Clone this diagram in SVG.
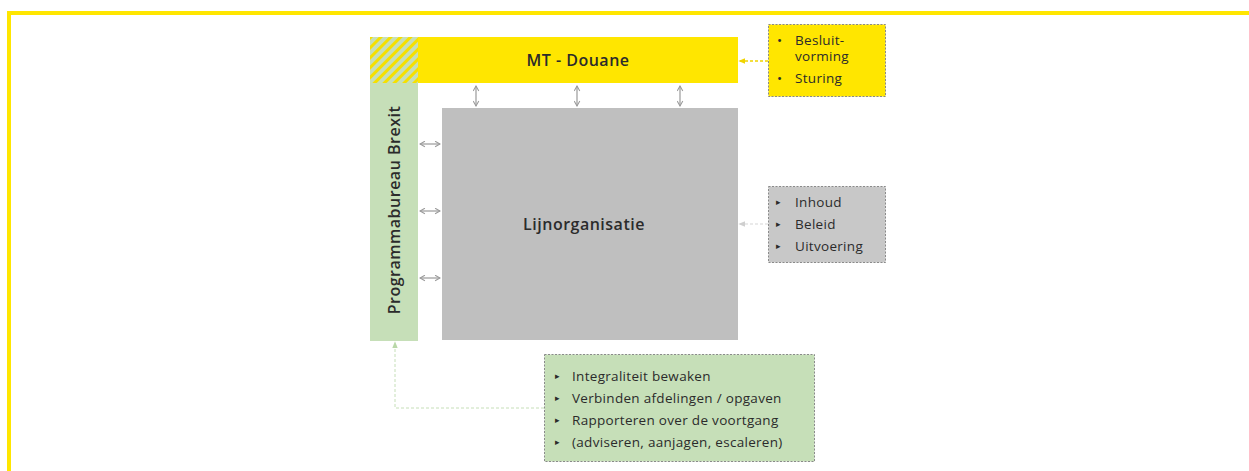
<svg xmlns="http://www.w3.org/2000/svg" width="1249" height="471" viewBox="0 0 1249 471">
<style>
  text { font-family: "Open Sans", "Noto Sans", sans-serif; fill: #2b2b2b; }
  .title { font-size: 16px; font-weight: 600; letter-spacing: 0.5px; }
  .item { font-size: 13.5px; letter-spacing: 0.3px; }
  .bul { font-size: 9px; }
  .dbl { stroke: #9a9a9a; stroke-width: 1.2; fill: none; }
  .note { stroke: #8a8a8a; stroke-width: 1; stroke-dasharray: 2 1.5; }
</style>
<defs>
  <pattern id="hatch" patternUnits="userSpaceOnUse" width="7" height="7" patternTransform="rotate(45)">
    <rect width="7" height="7" fill="#c6dfb8"/>
    <rect width="3" height="7" fill="#f5e000"/>
  </pattern>
  <marker id="ah" viewBox="0 0 10 10" refX="8" refY="5" markerWidth="7" markerHeight="7" orient="auto-start-reverse" markerUnits="userSpaceOnUse">
    <path d="M1,1 L8,5 L1,9" fill="none" stroke="#9a9a9a" stroke-width="1.5"/>
  </marker>
  <marker id="ahY" viewBox="0 0 10 10" refX="9" refY="5" markerWidth="7" markerHeight="7" orient="auto" markerUnits="userSpaceOnUse">
    <path d="M0,1 L10,5 L0,9 z" fill="#f0d400"/>
  </marker>
  <marker id="ahG" viewBox="0 0 10 10" refX="9" refY="5" markerWidth="7" markerHeight="7" orient="auto" markerUnits="userSpaceOnUse">
    <path d="M0,1 L10,5 L0,9 z" fill="#cfcfcf"/>
  </marker>
  <marker id="ahN" viewBox="0 0 10 10" refX="9" refY="5" markerWidth="7" markerHeight="7" orient="auto" markerUnits="userSpaceOnUse">
    <path d="M0,1 L10,5 L0,9 z" fill="#b9d8a8"/>
  </marker>
</defs>
<rect width="1249" height="471" fill="#ffffff"/>
<!-- page frame -->
<path d="M9,471 V13 H1249" fill="none" stroke="#ffe600" stroke-width="4"/>

<g id="programmabureau">
  <rect x="370" y="37" width="48" height="304" fill="#c6dfb8"/>
  <rect x="370" y="37" width="48" height="46" fill="url(#hatch)"/>
  <text class="title" transform="translate(400,210) rotate(-90)" text-anchor="middle">Programmabureau Brexit</text>
</g>

<g id="mt-douane">
  <rect x="418" y="37" width="320" height="46" fill="#ffe600"/>
  <text class="title" x="578" y="66" text-anchor="middle">MT - Douane</text>
</g>

<g id="lijnorganisatie">
  <rect x="442" y="108" width="296" height="232" fill="#bfbfbf"/>
  <text class="title" x="584" y="230" text-anchor="middle">Lijnorganisatie</text>
</g>

<g id="note-mt">
  <rect x="768.5" y="24.5" width="117" height="72" fill="#ffe600" class="note"/>
  <text class="item" x="777" y="45">•</text>
  <text class="item" x="795" y="45">Besluit-</text>
  <text class="item" x="795" y="61">vorming</text>
  <text class="item" x="777" y="83">•</text>
  <text class="item" x="795" y="83">Sturing</text>
</g>

<g id="note-lijn">
  <rect x="768.5" y="186.5" width="117" height="76" fill="#c8c8c8" class="note"/>
  <text class="bul" x="776" y="205">▸</text>
  <text class="item" x="795" y="207">Inhoud</text>
  <text class="bul" x="776" y="227">▸</text>
  <text class="item" x="795" y="229">Beleid</text>
  <text class="bul" x="776" y="249">▸</text>
  <text class="item" x="795" y="251">Uitvoering</text>
</g>

<g id="note-programma">
  <rect x="544.5" y="354.5" width="270" height="107" fill="#c6dfb8" class="note"/>
  <text class="bul" x="555" y="379">▸</text>
  <text class="item" x="572" y="381">Integraliteit bewaken</text>
  <text class="bul" x="555" y="401">▸</text>
  <text class="item" x="572" y="403">Verbinden afdelingen / opgaven</text>
  <text class="bul" x="555" y="423">▸</text>
  <text class="item" x="572" y="425">Rapporteren over de voortgang</text>
  <text class="bul" x="555" y="445">▸</text>
  <text class="item" x="572" y="447">(adviseren, aanjagen, escaleren)</text>
</g>

<g id="connectors">
  <line class="dbl" x1="476" y1="86" x2="476" y2="106" marker-start="url(#ah)" marker-end="url(#ah)"/>
  <line class="dbl" x1="577" y1="86" x2="577" y2="106" marker-start="url(#ah)" marker-end="url(#ah)"/>
  <line class="dbl" x1="680" y1="86" x2="680" y2="106" marker-start="url(#ah)" marker-end="url(#ah)"/>
  <line class="dbl" x1="420" y1="144" x2="440" y2="144" marker-start="url(#ah)" marker-end="url(#ah)"/>
  <line class="dbl" x1="420" y1="211" x2="440" y2="211" marker-start="url(#ah)" marker-end="url(#ah)"/>
  <line class="dbl" x1="420" y1="278" x2="440" y2="278" marker-start="url(#ah)" marker-end="url(#ah)"/>
  <line x1="768" y1="61" x2="739" y2="61" stroke="#f0d400" stroke-width="1.5" stroke-dasharray="3 2" marker-end="url(#ahY)"/>
  <line x1="768" y1="224" x2="739" y2="224" stroke="#d5d5d5" stroke-width="1" stroke-dasharray="3 2" marker-end="url(#ahG)"/>
  <path d="M544,408 H395 V342" fill="none" stroke="#c6dfb8" stroke-width="1" stroke-dasharray="3 2" marker-end="url(#ahN)"/>
</g>
</svg>
